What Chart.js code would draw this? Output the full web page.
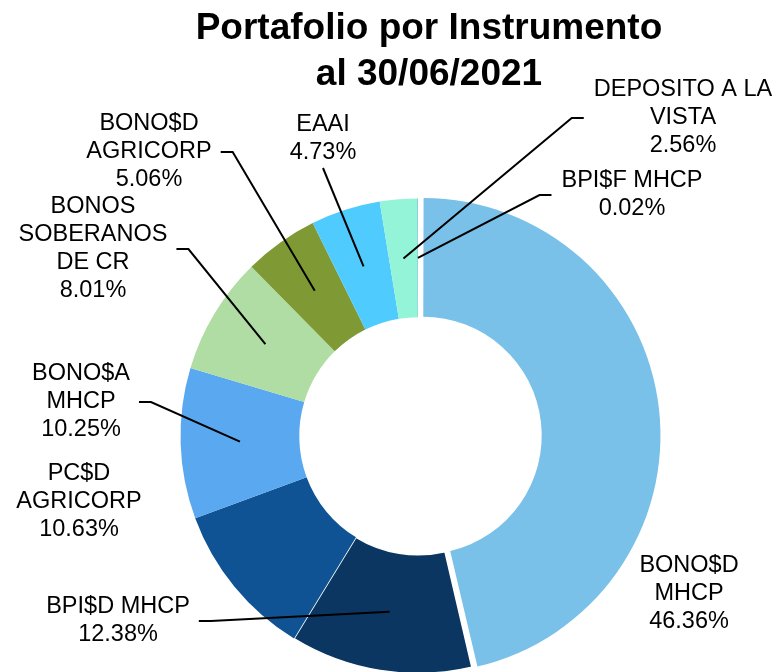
<!DOCTYPE html>
<html>
<head>
<meta charset="utf-8">
<script src="https://cdn.jsdelivr.net/npm/chart.js@4/dist/chart.umd.min.js"></script>
<style>
html,body{margin:0;padding:0;background:#fff;overflow:hidden;width:778px;height:672px;position:relative}
canvas{display:block;position:absolute;left:0;top:0}
#title{position:absolute;left:0;top:4px;width:858px;text-align:center;font:bold 37px/46px "Liberation Sans",Arial,sans-serif;color:#000;z-index:1}
</style>
</head>
<body>
<div id="title">Portafolio por Instrumento<br>al 30/06/2021</div>
<canvas id="pie" width="836" height="872"></canvas>
<script>
// data
const categories=[
["BONO$D","MHCP"],
["BPI$D MHCP"],
["PC$D","AGRICORP"],
["BONO$A","MHCP"],
["BONOS","SOBERANOS","DE CR"],
["BONO$D","AGRICORP"],
["EAAI"],
["DEPOSITO A LA","VISTA"],
["BPI$F MHCP"]
]
const values=[46.36,12.38,10.63,10.25,8.01,5.06,4.73,2.56,0.02]
const colors=["#79C1E8","#0A3661","#0F5394","#5AA8F0","#B0DDA3","#7F9934","#4FCBFD","#94F4D8","#2E75B6"]

// where each label block sits, relative to the ring centre, and which side the leader joins
const labelPlace=[
{dx:271,dy:158,side:null},
{dx:-300,dy:185,side:"right"},
{dx:-339,dy:66,side:null},
{dx:-337,dy:-34,side:"right"},
{dx:-325,dy:-187,side:"right"},
{dx:-269,dy:-284,side:"right"},
{dx:-95,dy:-297,side:"bottom"},
{dx:265,dy:-318,side:"left"},
{dx:214,dy:-241,side:"left"}
]

const FONT='"Liberation Sans", Arial, sans-serif'
const LH=28

// exploded slice: keep its radius, only shift it (Chart.js also grows it by default)
const noGrow={
id:"noGrow",
beforeDatasetsDraw(chart){
const meta=chart.getDatasetMeta(0)
const ctrl=meta.controller
meta.data.forEach(arc=>{
const o=(arc.options.offset||0)/4
if(!o)return
const fix=1-Math.sin(Math.min(Math.PI,arc.circumference))
arc.outerRadius=ctrl.outerRadius-o*fix
arc.innerRadius=ctrl.innerRadius-o*fix
})
}
}

const leaders={
id:"leaders",
afterDatasetsDraw(chart){
const ctx=chart.ctx
const arcs=chart.getDatasetMeta(0).data
ctx.save()
ctx.font="23.5px "+FONT
ctx.fillStyle="#000"
ctx.strokeStyle="#000"
ctx.lineWidth=2
ctx.textAlign="center"
ctx.textBaseline="middle"
arcs.forEach((arc,i)=>{
const lines=categories[i].concat(values[i].toFixed(2)+"%")
const p=labelPlace[i]
const cx=arc.x+p.dx, cy=arc.y+p.dy
const w=Math.max(...lines.map(t=>ctx.measureText(t).width))
const h=lines.length*LH
if(p.side){
const c=arc.getCenterPoint()
ctx.beginPath()
ctx.moveTo(c.x,c.y)
if(p.side=="left"){
const ex=cx-w/2-10
ctx.lineTo(ex-12,cy);ctx.lineTo(ex,cy)
}else if(p.side=="right"){
const ex=cx+w/2+9
ctx.lineTo(ex+12,cy);ctx.lineTo(ex,cy)
}else{
ctx.lineTo(cx,cy+h/2+1)
}
ctx.stroke()
}
lines.forEach((t,k)=>ctx.fillText(t,cx,cy+(k-(lines.length-1)/2)*LH))
})
ctx.restore()
}
}

new Chart(document.getElementById("pie"),{
type:"doughnut",
data:{
labels:categories.map(c=>c.join(" ")),
datasets:[{
data:values,
backgroundColor:colors,
borderColor:"#fff",
borderWidth:[0,1.5,0,0,0,0,0,0,0],
offset:[20,0,0,0,0,0,0,0,0],
hoverOffset:0
}]
},
options:{
responsive:false,
animation:false,
events:[],
radius:237.5,
cutout:"50%",
layout:{padding:0},
plugins:{
legend:{display:false},
tooltip:{enabled:false},
title:{display:false}
}
},
plugins:[noGrow,leaders]
})
</script>
</body>
</html>
